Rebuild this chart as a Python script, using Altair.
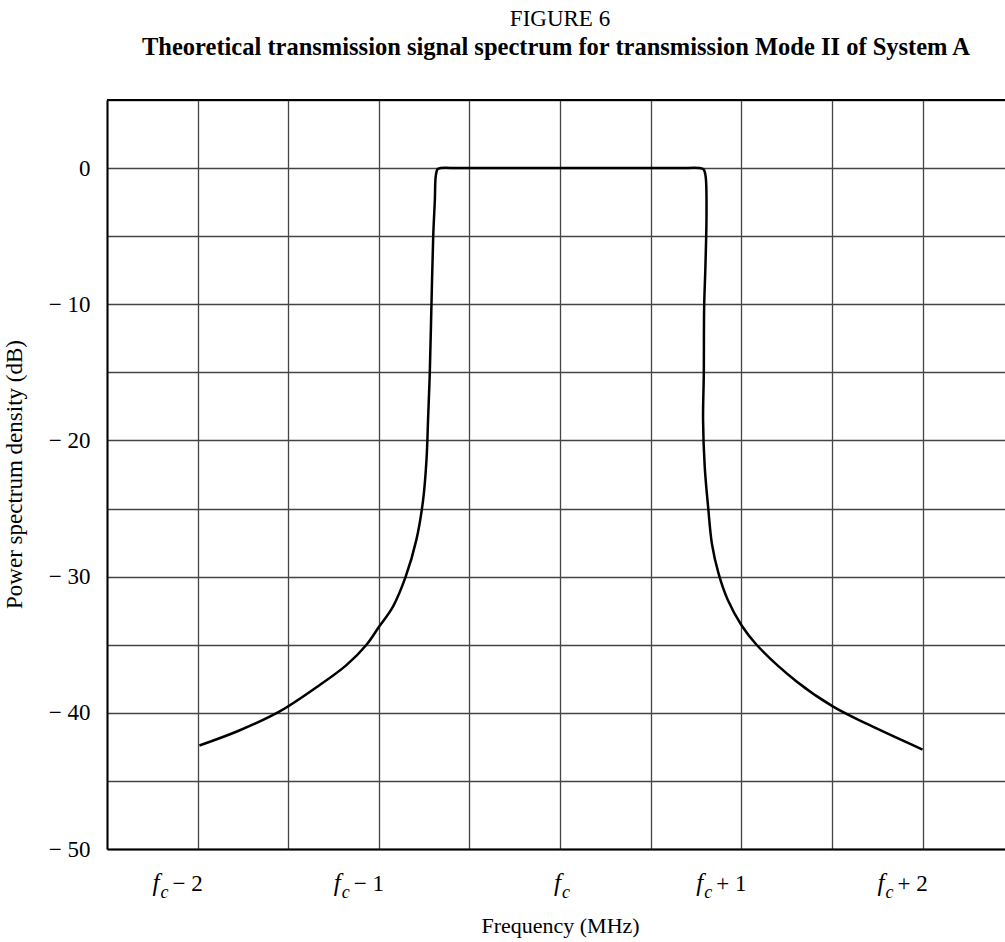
import altair as alt
import pandas as pd

# ---- data ----
freq_offset_mhz = [-1.99, -1.77, -1.547, -1.326, -1.179, -1.068, -1.0, -0.922, -0.852,
                   -0.793, -0.756, -0.737, -0.728, -0.719, -0.710, -0.700, -0.691,
                   -0.686, -0.676, -0.66, -0.55, 0.0, 0.65,
                   0.77, 0.792, 0.803, 0.808, 0.802, 0.795, 0.793, 0.789, 0.798,
                   0.817, 0.838, 0.875, 0.925, 1.0, 1.084, 1.305, 1.507, 1.691, 2.0]
psd_db = [-42.4, -41.3, -39.9, -37.96, -36.5, -35.0, -33.7, -32.2, -30.0,
          -27.3, -24.4, -21.4, -18.3, -15.1, -10.2, -5.0, -2.35,
          -0.6, -0.08, 0.0, 0.0, 0.0, 0.0,
          0.0, -0.1, -0.6, -3.3, -7.2, -10.2, -15.1, -18.5, -21.9,
          -24.9, -27.6, -29.8, -31.7, -33.55, -35.0, -37.7, -39.55, -40.8, -42.7]

x_grid = [-2.5, -2.0, -1.5, -1.0, -0.5, 0.0, 0.5, 1.0, 1.5, 2.0]
y_grid = [-50, -45, -40, -35, -30, -25, -20, -15, -10, -5, 0, 5]

tick_pos = [-2, -1, 0, 1, 2]
tick_suffix = ["− 2", "− 1", "", "+ 1", "+ 2"]

fig_label = "FIGURE 6"
fig_title = "Theoretical transmission signal spectrum for transmission Mode II of System A"
x_title = "Frequency (MHz)"
y_title = "Power spectrum density (dB)"

FONT = "Liberation Serif"
W, H = 898, 749

curve = pd.DataFrame({"f": freq_offset_mhz, "p": psd_db, "i": list(range(len(psd_db)))})
labels = pd.DataFrame({"pos": tick_pos, "suffix": tick_suffix, "f": ["f"] * 5, "c": ["c"] * 5})
titles = pd.DataFrame({"t1": [fig_label], "t2": [fig_title]})

xscale = alt.Scale(domain=[-2.5, 2.455], nice=False)
yscale = alt.Scale(domain=[-50, 5], nice=False)

line = alt.Chart(curve).mark_line(color="black", strokeWidth=2.5, interpolate="catmull-rom").encode(
    x=alt.X("f:Q", scale=xscale,
            axis=alt.Axis(values=x_grid, grid=True, gridColor="#444", gridWidth=1.3,
                          labels=False, ticks=False, domain=True, domainColor="black",
                          domainWidth=2, title=x_title, titleFont=FONT, titleFontSize=22,
                          titleFontWeight="normal", titleColor="black",
                          titleX=453, titleY=83, titleAlign="center",
                          titleBaseline="alphabetic")),
    y=alt.Y("p:Q", scale=yscale,
            axis=alt.Axis(values=y_grid, grid=True, gridColor="#444", gridWidth=1.3,
                          ticks=False, domain=True, domainColor="black", domainWidth=2,
                          labelExpr="datum.value == 0 ? '0' : (datum.value % 10 == 0 ? '− ' + abs(datum.value) : '')",
                          labelFont=FONT, labelFontSize=23, labelColor="black", labelPadding=17,
                          title=y_title, titleFont=FONT, titleFontSize=23,
                          titleFontWeight="normal", titleColor="black",
                          titleX=-93, titleY=374, titleAlign="center", titleBaseline="middle",
                          titleAngle=270)),
    order="i:Q",
)

top_border = alt.Chart(pd.DataFrame({"y": [5]})).mark_rule(color="black", strokeWidth=2).encode(
    y=alt.Y("y:Q", scale=yscale)
)

num = alt.Chart(labels).transform_filter("datum.suffix != ''")
ctr = alt.Chart(labels).transform_filter("datum.suffix == ''")

f_num = num.mark_text(align="left", baseline="alphabetic", dx=-45, font=FONT, fontStyle="italic",
                      fontSize=25, color="black").encode(
    x=alt.X("pos:Q", scale=xscale), y=alt.value(H + 42), text="f:N")
c_num = num.mark_text(align="left", baseline="alphabetic", dx=-37, font=FONT, fontStyle="italic",
                      fontSize=18, color="black").encode(
    x=alt.X("pos:Q", scale=xscale), y=alt.value(H + 49), text="c:N")
s_num = num.mark_text(align="left", baseline="alphabetic", dx=-25, font=FONT,
                      fontSize=23, color="black").encode(
    x=alt.X("pos:Q", scale=xscale), y=alt.value(H + 42), text="suffix:N")
f_ctr = ctr.mark_text(align="left", baseline="alphabetic", dx=-6, font=FONT, fontStyle="italic",
                      fontSize=25, color="black").encode(
    x=alt.X("pos:Q", scale=xscale), y=alt.value(H + 42), text="f:N")
c_ctr = ctr.mark_text(align="left", baseline="alphabetic", dx=2, font=FONT, fontStyle="italic",
                      fontSize=18, color="black").encode(
    x=alt.X("pos:Q", scale=xscale), y=alt.value(H + 49), text="c:N")

t1 = alt.Chart(titles).mark_text(align="center", baseline="alphabetic", font=FONT, fontSize=23,
                                 color="black").encode(
    x=alt.value(453), y=alt.value(-74), text="t1:N")
t2 = alt.Chart(titles).mark_text(align="center", baseline="alphabetic", font=FONT, fontSize=24.5,
                                 fontWeight="bold", color="black").encode(
    x=alt.value(449), y=alt.value(-45), text="t2:N")

chart = alt.layer(line, top_border, f_num, c_num, s_num, f_ctr, c_ctr, t1, t2).properties(
    width=W, height=H,
    autosize=alt.AutoSizeParams(type="none"),
    padding={"left": 107, "top": 100, "right": 0, "bottom": 93},
    background="white",
).configure_view(stroke=None)

chart.save("out.html", embed_options={"renderer": "svg", "actions": False})
